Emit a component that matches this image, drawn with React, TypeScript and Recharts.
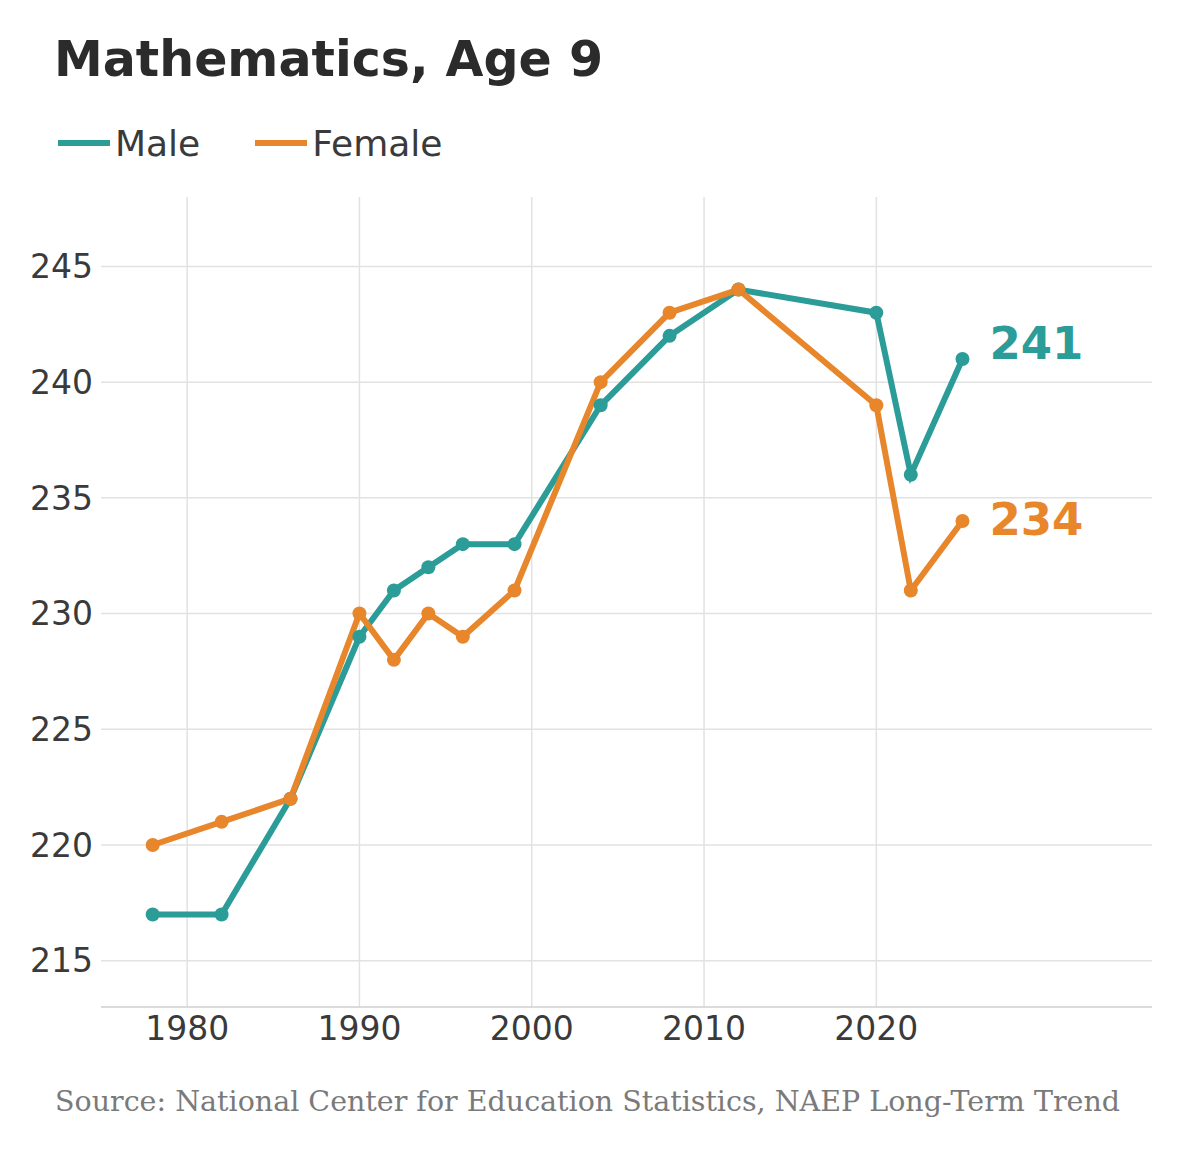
import React from "react";
import { LineChart, Line, XAxis, YAxis, CartesianGrid, LabelList } from "recharts";

const years = [1978, 1982, 1986, 1990, 1992, 1994, 1996, 1999, 2004, 2008, 2012, 2020, 2022, 2025];
const male = [217, 217, 222, 229, 231, 232, 233, 233, 239, 242, 244, 243, 236, 241];
const female = [220, 221, 222, 230, 228, 230, 229, 231, 240, 243, 244, 239, 231, 234];
const xTicks = [1980, 1990, 2000, 2010, 2020];
const yTicks = [215, 220, 225, 230, 235, 240, 245];

const MALE_COLOR = "#2b9c98";
const FEMALE_COLOR = "#e8862b";
const FONT = "'DejaVu Sans', sans-serif";

const data = years.map((year, i) => ({ year, male: male[i], female: female[i] }));

const makeEndLabel = (color: string, dy: number) => (props: any) => {
  const { x, y, index, value } = props;
  if (index !== years.length - 1) return null;
  return (
    <text x={x + 27} y={y + dy} fill={color} fontSize={45} fontWeight="bold" fontFamily={FONT}>
      {value}
    </text>
  );
};

export default function App() {
  return (
    <div style={{ position: "absolute", left: 0, top: 0, width: 1200, height: 1158, background: "#fff", fontFamily: FONT }}>
      <div style={{ position: "absolute", left: 54, top: 30, fontSize: 49, fontWeight: "bold", color: "#2b2b2b", lineHeight: "60px", whiteSpace: "nowrap" }}>
        Mathematics, Age 9
      </div>
      <div style={{ position: "absolute", left: 58, top: 120, height: 46, display: "flex", alignItems: "center", fontSize: 36, color: "#3a3a3a" }}>
        <div style={{ width: 52, height: 6, background: MALE_COLOR, marginRight: 5 }} />
        <span>Male</span>
        <div style={{ width: 52, height: 6, background: FEMALE_COLOR, marginLeft: 55, marginRight: 5 }} />
        <span>Female</span>
      </div>
      <div style={{ position: "absolute", left: 0, top: 0 }}>
        <LineChart width={1200} height={1158} data={data} margin={{ top: 197, right: 48, bottom: 91, left: 0 }}>
          <CartesianGrid stroke="#e2e2e2" strokeWidth={1.5} syncWithTicks />
          <XAxis
            dataKey="year"
            type="number"
            domain={[1975, 2036]}
            ticks={xTicks}
            tickLine={false}
            axisLine={{ stroke: "#cfcfcf", strokeWidth: 1.5 }}
            height={60}
            tick={{ fontSize: 33, fill: "#3a3a3a", fontFamily: FONT }}
            tickMargin={4}
          />
          <YAxis
            type="number"
            domain={[213, 248]}
            ticks={yTicks}
            tickLine={false}
            axisLine={false}
            width={101}
            tick={{ fontSize: 33, fill: "#3a3a3a", fontFamily: FONT }}
            tickMargin={2}
          />
          <Line
            dataKey="male"
            stroke={MALE_COLOR}
            strokeWidth={6}
            dot={{ r: 7, fill: MALE_COLOR, stroke: "none" }}
            activeDot={false}
            isAnimationActive={false}
          >
            <LabelList dataKey="male" content={makeEndLabel(MALE_COLOR, 0)} />
          </Line>
          <Line
            dataKey="female"
            stroke={FEMALE_COLOR}
            strokeWidth={6}
            dot={{ r: 7, fill: FEMALE_COLOR, stroke: "none" }}
            activeDot={false}
            isAnimationActive={false}
          >
            <LabelList dataKey="female" content={makeEndLabel(FEMALE_COLOR, 14)} />
          </Line>
        </LineChart>
      </div>
      <div style={{ position: "absolute", left: 55, top: 1084, fontSize: 28.5, color: "#7a7a7a", fontFamily: "'DejaVu Serif', serif", whiteSpace: "nowrap", lineHeight: "36px" }}>
        Source: National Center for Education Statistics, NAEP Long-Term Trend
      </div>
    </div>
  );
}
